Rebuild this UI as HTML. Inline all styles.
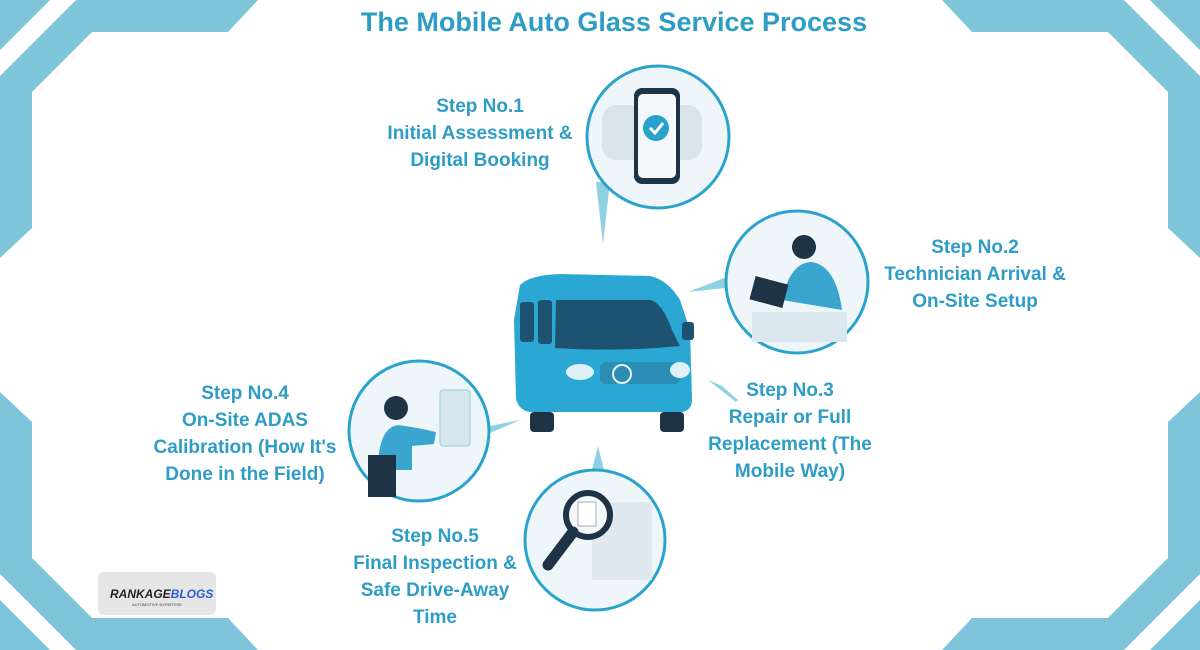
<!DOCTYPE html>
<html><head><meta charset="utf-8"><style>
body{margin:0;width:1200px;height:650px;overflow:hidden;background:#fff;font-family:"Liberation Sans",sans-serif}
.t{position:absolute;color:#2e9dc6;font-weight:bold;text-align:center;font-size:19px;line-height:27px;white-space:nowrap}
</style></head><body>
<svg width="1200" height="650" style="position:absolute;left:0;top:0">
<g fill="#7fc5d9">
<polygon points="0,0 258,0 228,32 92,32 32,92 32,228 0,258"/>
<polygon points="1200,0 942,0 972,32 1108,32 1168,92 1168,228 1200,258"/>
<polygon points="0,650 258,650 228,618 92,618 32,558 32,422 0,392"/>
<polygon points="1200,650 942,650 972,618 1108,618 1168,558 1168,422 1200,392"/>
</g>
<g fill="#fff">
<polygon points="0,50 50,0 76,0 0,76"/>
<polygon points="1200,50 1150,0 1124,0 1200,76"/>
<polygon points="0,600 50,650 76,650 0,574"/>
<polygon points="1200,600 1150,650 1124,650 1200,574"/>
</g>
<g fill="#8fd0e3">
<polygon points="596,182 610,182 603,244"/>
<polygon points="740,272 744,286 688,292"/>
<polygon points="708,380 722,386 738,400 736,402"/>
<polygon points="470,430 474,440 520,420"/>
<polygon points="592,470 604,470 598,446"/>
</g>
<g stroke="#2aa3cc" stroke-width="3" fill="#eef6f9">
<circle cx="658" cy="137" r="71"/>
<circle cx="797" cy="282" r="71"/>
<circle cx="419" cy="431" r="70"/>
<circle cx="595" cy="540" r="70"/>
</g>
<rect x="602" y="105" width="100" height="55" rx="14" fill="#d9e3ea"/>
<rect x="634" y="88" width="46" height="96" rx="8" fill="#1f3347"/>
<rect x="638" y="94" width="38" height="84" rx="5" fill="#f4f8fb"/>
<circle cx="656" cy="128" r="13" fill="#2aa3cc"/>
<polyline points="650,128 655,133 663,123" fill="none" stroke="#fff" stroke-width="3"/>
<rect x="752" y="312" width="95" height="30" fill="#dbe7ee"/>
<circle cx="804" cy="247" r="12" fill="#1f3347"/>
<path d="M782,300 Q790,262 812,262 Q836,266 842,310 Z" fill="#3aa6d0"/>
<rect x="752" y="280" width="34" height="24" fill="#1f3347" transform="rotate(15 769 292)"/>
<rect x="440" y="390" width="30" height="56" rx="3" fill="#d7e7f0" stroke="#9cc" stroke-width="1"/>
<circle cx="396" cy="408" r="12" fill="#1f3347"/>
<path d="M378,470 Q378,428 398,425 Q420,428 436,432 L434,444 L412,446 L412,470 Z" fill="#3aa6d0"/>
<rect x="368" y="455" width="28" height="42" fill="#1f3347"/>
<rect x="592" y="502" width="60" height="78" fill="#dfe9ef"/>
<circle cx="588" cy="515" r="22" fill="#f4f8fb" stroke="#1f3347" stroke-width="6"/>
<rect x="578" y="502" width="18" height="24" fill="#fff" stroke="#aab" />
<line x1="573" y1="532" x2="548" y2="565" stroke="#1f3347" stroke-width="11" stroke-linecap="round"/>
<g>
<path d="M520,285 Q530,275 560,274 L650,276 Q668,280 680,300 L690,330 L692,400 Q692,410 682,412 L530,412 Q518,410 516,398 L514,320 Z" fill="#2aa7d2"/>
<path d="M556,300 L650,300 Q662,302 672,330 L680,346 Q620,352 555,348 Z" fill="#1d5370"/>
<rect x="520" y="302" width="14" height="40" rx="3" fill="#1d5370"/>
<rect x="538" y="300" width="14" height="44" rx="3" fill="#1d5370"/>
<rect x="682" y="322" width="12" height="18" rx="3" fill="#1d5370"/>
<rect x="600" y="362" width="80" height="22" rx="6" fill="#2b8db3"/>
<circle cx="622" cy="374" r="9" fill="none" stroke="#e6f3f8" stroke-width="2"/>
<ellipse cx="580" cy="372" rx="14" ry="8" fill="#dff1f8"/>
<ellipse cx="680" cy="370" rx="10" ry="8" fill="#dff1f8"/>
<rect x="530" y="412" width="24" height="20" rx="4" fill="#1f3347"/>
<rect x="660" y="412" width="24" height="20" rx="4" fill="#1f3347"/>
</g>
<rect x="98" y="572" width="118" height="43" rx="6" fill="#e6e6e6"/>
<text x="110" y="598" font-family="Liberation Sans" font-weight="bold" font-style="italic" font-size="12" fill="#222">RANKAGE<tspan fill="#2a5ed0">BLOGS</tspan></text>
<text x="132" y="606" font-family="Liberation Sans" font-size="4" fill="#444">AUTOMOTIVE EXPERTISE</text>
</svg>
<div class="t" style="left:14px;width:1200px;top:5px;font-size:27px;line-height:34px">The Mobile Auto Glass Service Process</div>
<div class="t" style="left:370px;width:220px;top:93px">Step No.1<br>Initial Assessment &amp;<br>Digital Booking</div>
<div class="t" style="left:860px;width:230px;top:234px">Step No.2<br>Technician Arrival &amp;<br>On-Site Setup</div>
<div class="t" style="left:690px;width:200px;top:377px">Step No.3<br>Repair or Full<br>Replacement (The<br>Mobile Way)</div>
<div class="t" style="left:140px;width:210px;top:380px">Step No.4<br>On-Site ADAS<br>Calibration (How It's<br>Done in the Field)</div>
<div class="t" style="left:340px;width:190px;top:523px">Step No.5<br>Final Inspection &amp;<br>Safe Drive-Away<br>Time</div>
</body></html>
